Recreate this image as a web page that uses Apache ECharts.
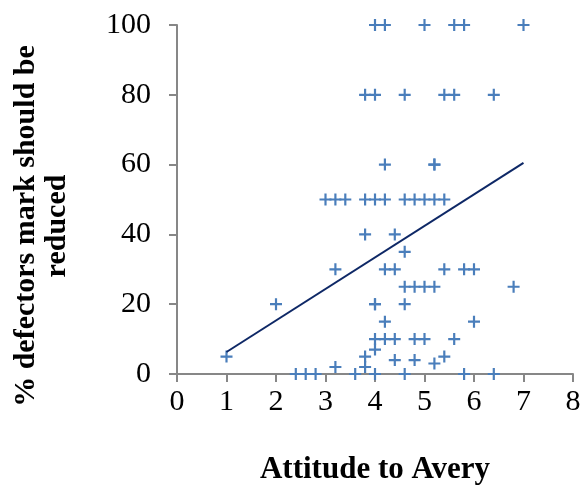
<!DOCTYPE html>
<html>
<head>
<meta charset="utf-8">
<script src="https://cdn.jsdelivr.net/npm/echarts@6/dist/echarts.min.js"></script>
<style>html,body{margin:0;padding:0;background:#fff}#c{width:586px;height:490px}</style>
</head>
<body>
<div id="c"></div>
<script>
// Attitude to Avery (x) and % defectors mark should be reduced (y)
var attitude = [
  4.0, 4.2, 5.0, 5.6, 5.8, 7.0,
  3.8, 4.0, 4.6, 5.4, 5.6, 6.4,
  4.2, 5.2, 5.2,
  3.0, 3.2, 3.4, 3.8, 4.0, 4.2, 4.6, 4.8, 5.0, 5.2, 5.4,
  3.8, 4.4,
  4.6,
  3.2, 4.2, 4.4, 5.4, 5.8, 6.0,
  4.6, 4.8, 5.0, 5.2, 6.8,
  2.0, 4.0, 4.0, 4.6,
  4.2, 6.0,
  4.0, 4.2, 4.4, 4.8, 5.0, 5.6,
  4.0,
  1.0, 3.8, 5.4,
  4.4, 4.8,
  5.2,
  3.2, 3.8,
  2.4, 2.6, 2.8, 3.6, 4.0, 4.6, 5.8, 6.4
];
var reduced = [
  100, 100, 100, 100, 100, 100,
  80, 80, 80, 80, 80, 80,
  60, 60, 60,
  50, 50, 50, 50, 50, 50, 50, 50, 50, 50, 50,
  40, 40,
  35,
  30, 30, 30, 30, 30, 30,
  25, 25, 25, 25, 25,
  20, 20, 20, 20,
  15, 15,
  10, 10, 10, 10, 10, 10,
  7,
  5, 5, 5,
  4, 4,
  3,
  2, 2,
  0, 0, 0, 0, 0, 0, 0, 0
];
// Linear trend line end points
var trendX = [1, 7];
var trendY = [6.3, 60.5];

var xTicks = [0, 1, 2, 3, 4, 5, 6, 7, 8];
var yTicks = [0, 20, 40, 60, 80, 100];

var points = attitude.map(function (x, i) { return [x, reduced[i]]; });
var trend = trendX.map(function (x, i) { return [x, trendY[i]]; });

var serif = '"Liberation Serif", "Times New Roman", serif';
var axisGrey = '#878787';

var chart = echarts.init(document.getElementById('c'), null, {renderer: 'canvas'});
chart.setOption({
  animation: false,
  backgroundColor: '#ffffff',
  grid: {left: 177, top: 25, right: 13, bottom: 115, containLabel: false},
  xAxis: {
    type: 'value',
    min: xTicks[0], max: xTicks[xTicks.length - 1], interval: 1,
    name: 'Attitude to Avery',
    nameLocation: 'middle',
    nameGap: 80,
    nameTextStyle: {fontFamily: serif, fontWeight: 'bold', fontSize: 31, color: '#000'},
    axisLine: {show: true, onZero: false, lineStyle: {color: axisGrey, width: 2}},
    axisTick: {show: true, inside: false, length: 8, lineStyle: {color: axisGrey, width: 2}},
    axisLabel: {fontFamily: serif, fontSize: 30, color: '#000', margin: 13},
    splitLine: {show: false}
  },
  yAxis: {
    type: 'value',
    min: yTicks[0], max: yTicks[yTicks.length - 1], interval: 20,
    axisLine: {show: true, onZero: false, lineStyle: {color: axisGrey, width: 2}},
    axisTick: {show: true, inside: false, length: 8, lineStyle: {color: axisGrey, width: 2}},
    axisLabel: {fontFamily: serif, fontSize: 30, color: '#000', margin: 26},
    splitLine: {show: false}
  },
  graphic: [{
    type: 'text',
    x: 42, y: 226,
    rotation: Math.PI / 2,
    style: {
      text: '% defectors mark should be\nreduced',
      font: 'bold 30px ' + serif,
      fill: '#000',
      textAlign: 'center',
      textVerticalAlign: 'middle',
      lineHeight: 31
    }
  }],
  series: [{
    type: 'scatter',
    data: points,
    symbol: 'path://M4.5,0h2v4.5h4.5v2h-4.5v4.5h-2v-4.5h-4.5v-2h4.5z',
    symbolSize: 12,
    itemStyle: {color: '#4A7EBB', opacity: 1},
    z: 2
  }, {
    type: 'line',
    data: trend,
    symbol: 'none',
    lineStyle: {color: '#0E2866', width: 2},
    z: 3
  }]
});
</script>
</body>
</html>
